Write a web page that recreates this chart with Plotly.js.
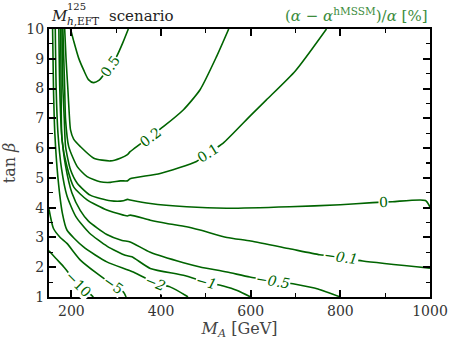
<!DOCTYPE html>
<html>
<head>
<meta charset="utf-8">
<script src="https://cdn.plot.ly/plotly-3.0.1.min.js"></script>
<style>
  html, body { margin: 0; padding: 0; background: #fff; }
  #chart { width: 454px; height: 348px; }
</style>
</head>
<body>
<div id="chart"></div>
<script>
// contour lines of (alpha - alpha_hMSSM)/alpha [%]
const ma_p05 = [198, 205, 216, 228, 238, 249, 262, 272, 287, 301, 315, 327];
const tb_p05 = [10, 9.6, 9.03, 8.6, 8.3, 8.2, 8.28, 8.46, 8.75, 9.08, 9.55, 10];

const ma_p02 = [185, 188, 192, 195, 198, 205, 220, 250, 287, 309, 325, 331, 376, 405, 450, 487, 524, 551];
const tb_p02 = [10, 9, 8, 7.2, 6.61, 6.3, 6.05, 5.66, 5.57, 5.66, 5.78, 5.88, 6.39, 6.72, 7.29, 7.96, 9.08, 10];

const ma_p01 = [181, 183, 185, 187, 194, 213, 235, 264, 287, 309, 325, 331, 398, 479, 505, 538, 600, 635, 700, 769];
const tb_p01 = [10, 9, 8, 6.95, 6.05, 5.38, 5.04, 4.87, 4.85, 4.9, 4.9, 4.97, 5.15, 5.55, 5.83, 6.16, 7.1, 7.62, 8.6, 10];

const ma_0 = [179, 181, 184, 187, 198, 213, 242, 287, 316, 325, 331, 376, 457, 546, 687, 800, 872, 916, 990, 1000];
const tb_0 = [10, 8, 7, 6.05, 5.27, 4.82, 4.42, 4.23, 4.23, 4.28, 4.26, 4.14, 4.03, 3.98, 4.03, 4.1, 4.17, 4.2, 4.24, 4.02];

const ma_m01 = [176, 177, 179, 190, 205, 235, 279, 316, 325, 331, 376, 413, 457, 487, 547, 600, 687, 754, 802, 850, 1000];
const tb_m01 = [10, 8, 6.28, 5.38, 4.7, 4.26, 3.92, 3.75, 3.72, 3.75, 3.58, 3.47, 3.36, 3.25, 3.0, 2.88, 2.62, 2.42, 2.33, 2.21, 1.97];

const ma_m05 = [172, 174, 178, 187, 201, 220, 238, 279, 313, 331, 376, 450, 487, 547, 598, 650, 700, 750, 800];
const tb_m05 = [10, 8, 6.5, 5.4, 4.5, 3.9, 3.55, 3.1, 2.9, 2.85, 2.5, 2.15, 2.01, 1.84, 1.67, 1.55, 1.43, 1.27, 1.0];

const ma_m1 = [164, 166, 170, 178, 190, 210, 240, 280, 320, 335, 376, 450, 501, 539, 570, 600];
const tb_m1 = [10, 8, 6.5, 5.3, 4.4, 3.7, 3.15, 2.7, 2.4, 2.35, 1.96, 1.73, 1.5, 1.37, 1.22, 1.0];

const ma_m2 = [158, 160, 163, 170, 180, 190, 227, 279, 338, 388, 420, 455, 460];
const tb_m2 = [10, 8, 6.5, 5, 3.8, 3.25, 2.68, 2.18, 1.84, 1.47, 1.34, 1.05, 1.0];

const ma_m5 = [150, 160, 175, 190, 220, 257, 294, 316, 322];
const tb_m5 = [3.95, 3.3, 3.0, 2.8, 2.24, 1.79, 1.39, 1.17, 1.0];

const ma_m10 = [150, 165, 183, 200, 216, 235, 249];
const tb_m10 = [2.55, 2.3, 2.01, 1.7, 1.45, 1.2, 1.0];

// inline contour labels
const lblText  = ['0.5', '0.2', '0.1', '0', '<i>−0.1</i>', '<i>−0.5</i>', '<i>−1</i>', '<i>−2</i>', '−5', '−10'];
const lblMA    = [287, 376, 505, 896, 802, 650, 501, 388, 294, 216];
const lblTB    = [8.75, 6.39, 5.83, 4.18, 2.33, 1.55, 1.5, 1.47, 1.4, 1.45];
const lblAngle = [-55, -37, -32, -2, 8, 9, 15, 22, 35, 45];

const GREEN = '#006400';
const FONT  = 'DejaVu Serif';

const lines = [
  [ma_p05, tb_p05], [ma_p02, tb_p02], [ma_p01, tb_p01], [ma_0, tb_0], [ma_m01, tb_m01],
  [ma_m05, tb_m05], [ma_m1, tb_m1], [ma_m2, tb_m2], [ma_m5, tb_m5], [ma_m10, tb_m10],
];

const traces = lines.map(([x, y]) => ({
  x, y, type: 'scatter', mode: 'lines',
  line: { color: GREEN, width: 1.6, shape: 'spline', smoothing: 0.6 },
  hoverinfo: 'skip', showlegend: false,
}));

const annotations = lblText.map((t, i) => ({
  x: lblMA[i], y: lblTB[i], xref: 'x', yref: 'y',
  text: t, showarrow: false, textangle: lblAngle[i],
  font: { family: FONT, size: 14, color: GREEN },
  bgcolor: '#ffffff', borderpad: 0,
}));

// titles above the frame
annotations.push(
  { xref: 'paper', yref: 'paper', x: 0.0, y: 1.0, xanchor: 'left', yanchor: 'bottom', yshift: 2,
    text: '<i>M</i>', showarrow: false, font: { family: FONT, size: 15, color: '#222' } },
  { xref: 'paper', yref: 'paper', x: 0.043, y: 1.0, xanchor: 'left', yanchor: 'bottom', yshift: 15,
    text: '125', showarrow: false, font: { family: FONT, size: 10, color: '#222' } },
  { xref: 'paper', yref: 'paper', x: 0.041, y: 1.0, xanchor: 'left', yanchor: 'bottom', yshift: 0,
    text: '<i>h</i>,EFT', showarrow: false, font: { family: FONT, size: 10.5, color: '#222' } },
  { xref: 'paper', yref: 'paper', x: 0.152, y: 1.0, xanchor: 'left', yanchor: 'bottom', yshift: 2,
    text: 'scenario', showarrow: false, font: { family: FONT, size: 15, color: '#222' } },
  { xref: 'paper', yref: 'paper', x: 1.0, y: 1.0, xanchor: 'right', yanchor: 'bottom', yshift: 2,
    text: '(<i>α</i> − <i>α</i><sup>hMSSM</sup>)/<i>α</i> [%]', showarrow: false,
    font: { family: FONT, size: 15, color: '#3c8c3c' } },
);

const axisBase = {
  showgrid: false, zeroline: false,
  showline: true, linecolor: '#000', linewidth: 2, mirror: 'ticks',
  ticks: 'inside', ticklen: 7, tickwidth: 2, tickcolor: '#000',
  tickfont: { family: FONT, size: 14, color: '#333' },
};

const layout = {
  width: 454, height: 348,
  margin: { l: 49, r: 24, t: 29, b: 51 },
  paper_bgcolor: '#fff', plot_bgcolor: '#fff',
  showlegend: false,
  font: { family: FONT },
  xaxis: {
    ...axisBase, range: [150, 1000], tickvals: [200, 400, 600, 800, 1000],
    minor: { tickvals: [300, 500, 700, 900], ticklen: 4, tickwidth: 1.2, tickcolor: '#000', ticks: 'inside' },
    title: { text: '<i>M</i><sub><i>A</i></sub> [GeV]', font: { family: FONT, size: 16, color: '#444' }, standoff: 5 },
  },
  yaxis: {
    ...axisBase, range: [1, 10], dtick: 1,
    minor: { dtick: 0.5, ticklen: 4, tickwidth: 1.2, tickcolor: '#000', ticks: 'inside' },
    title: { text: 'tan <i>β</i>', font: { family: FONT, size: 16, color: '#444' }, standoff: 10 },
  },
  annotations,
};

Plotly.newPlot('chart', traces, layout, { displayModeBar: false, staticPlot: true });
</script>
</body>
</html>
